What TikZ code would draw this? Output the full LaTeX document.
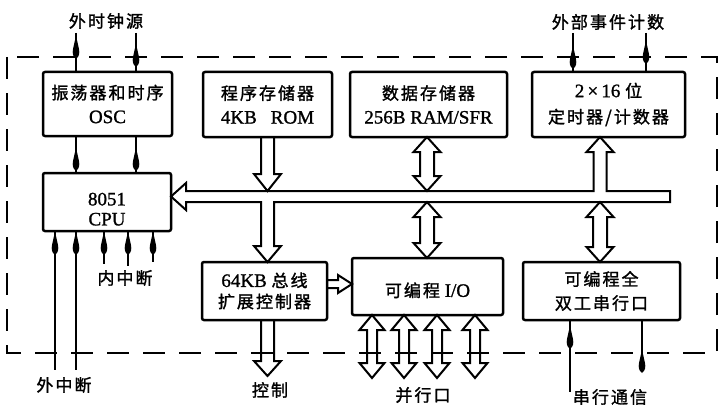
\documentclass[tikz,border=0pt]{standalone}
\usepackage{fontspec}
\setmainfont{Liberation Serif}[FakeBold=1.2]
\newfontfamily\cjk{Noto Sans CJK SC}[LetterSpace=12,FakeBold=1.5]
\newcommand\zh[1]{{\fontsize{17}{24}\selectfont\cjk #1}}
\newcommand\hollowdbl[6]{%
  \draw[hollow] (#1,#2) -- ({#1+#5},{#2+#6}) -- ({#1+#4},{#2+#6}) -- ({#1+#4},{#3-#6})
   -- ({#1+#5},{#3-#6}) -- (#1,#3) -- ({#1-#5},{#3-#6}) -- ({#1-#4},{#3-#6})
   -- ({#1-#4},{#2+#6}) -- ({#1-#5},{#2+#6}) -- cycle;}
\begin{document}
\begin{tikzpicture}[x=1pt,y=-1pt,
  box/.style={draw, line width=2.5pt, rounded corners=2pt, align=center, inner sep=0pt,
    font=\fontsize{19}{24}\selectfont},
  sig/.style={line width=1.7pt},
  hollow/.style={draw, fill=white, line width=2pt, line join=miter},
  lbl/.style={inner sep=0pt},
  mk/.pic={\fill (0,-16) .. controls (0.9,-8) and (3.3,-2) .. (3.3,2)
     .. controls (3.3,6) and (1.4,8) .. (0,9)
     .. controls (-1.4,8) and (-3.3,6) .. (-3.3,2)
     .. controls (-3.3,-2) and (-0.9,-8) .. (0,-16);}]
\useasboundingbox[fill=white] (0,0) rectangle (720,412);

% ---------- hollow bus and arrows ----------
\draw[hollow] (171,196.5) -- (186,183) -- (186,191) -- (593.5,191) -- (593.5,152)
  -- (586.5,152) -- (600,137) -- (613.5,152) -- (606.5,152) -- (606.5,191)
  -- (670,191) -- (670,202) -- (274,202) -- (274,246) -- (281,246) -- (267.5,262)
  -- (254,246) -- (261,246) -- (261,202) -- (186,202) -- (186,210) -- cycle;
\draw[hollow] (261,137) -- (261,174) -- (254,174) -- (267.5,191) -- (281,174) -- (274,174) -- (274,137);
\draw[hollow] (261,320) -- (261,361) -- (254,361) -- (267.5,376) -- (281,361) -- (274,361) -- (274,320);
\draw[hollow] (327,280) -- (338,280) -- (338,275) -- (352,284) -- (338,293) -- (338,288) -- (327,288);
\hollowdbl{427}{137}{191}{7}{13.5}{15}
\hollowdbl{427}{202}{258}{7}{13.5}{15}
\hollowdbl{600}{202}{262}{7}{13.5}{15}
\foreach \px in {372,404,437,475} {\hollowdbl{\px}{315}{378}{5}{12.5}{15}}

% ---------- boxes ----------
\node[box, minimum width=129, minimum height=64] (osc) at (107.5,104) {\zh{振荡器和时序}\\OSC};
\node[box, minimum width=129, minimum height=65] (rom) at (267.5,104.5) {\zh{程序存储器}\\4KB\hspace{14pt}ROM};
\node[box, minimum width=157, minimum height=65] (ram) at (428.5,104.5) {\zh{数据存储器}\\256B RAM/SFR};
\node[box, minimum width=153, minimum height=65] (tim) at (608.5,104.5) {2\,×\,16 \zh{位}\\[2pt]\zh{定时器/计数器}};
\node[box, minimum width=128, minimum height=58] (cpu) at (107,202) {\rule{0pt}{27pt}8051\\[-4pt]CPU};
\node[box, minimum width=125, minimum height=58] (bex) at (264.5,291) {64KB \zh{总线}\\[-3pt]\zh{扩展控制器}};
\node[box, minimum width=151, minimum height=57] (io) at (427.5,286.5) {\rule{0pt}{22pt}\zh{可编程} I/O};
\node[box, minimum width=157, minimum height=58] (ser) at (601.5,291) {\zh{可编程全}\\\zh{双工串行口}};

% ---------- labels ----------
\node[lbl] (lclk) at (106,21) {\zh{外时钟源}};
\node[lbl] (lcnt) at (608,22) {\zh{外部事件计数}};
\node[lbl] (lint) at (125,278) {\zh{内中断}};
\node[lbl] (lext) at (64,385) {\zh{外中断}};
\node[lbl] (lctl) at (270,390) {\zh{控制}};
\node[lbl] (lpar) at (423,395) {\zh{并行口}};
\node[lbl] (lser) at (610,397) {\zh{串行通信}};

% ---------- signal lines ----------
\coordinate (k1) at (76,33);
\coordinate (k2) at (136,33);
\draw[sig] (k1) -- (k1 |- osc.north);
\draw[sig] (k2) -- (k2 |- osc.north);
\pic at (76,50) {mk};
\pic at (136,58) {mk};
\draw[sig] (osc.south -| k1) -- (cpu.north -| k1);
\draw[sig] (osc.south -| k2) -- (cpu.north -| k2);
\pic at (76,162) {mk};
\pic at (136,162) {mk};

\foreach \xx/\yy in {55/370,76/370,104/264,128/266,153/262} {
  \coordinate (ie) at (\xx,\yy);
  \draw[sig] (cpu.south -| ie) -- (ie);
  \pic at (\xx,246) {mk};
}

\coordinate (t1) at (573,33);
\coordinate (t2) at (646,33);
\draw[sig] (t1) -- (t1 |- tim.north);
\draw[sig] (t2) -- (t2 |- tim.north);
\pic at (573,60) {mk};
\pic at (646,55) {mk};

\coordinate (s1) at (570,392);
\coordinate (s2) at (642,372);
\draw[sig] (ser.south -| s1) -- (s1);
\draw[sig] (ser.south -| s2) -- (s2);
\pic at (570,340) {mk};
\pic at (642,364) {mk};

% ---------- dashed chip border ----------
\draw[line width=2.2pt, dash pattern=on 22pt off 14pt] (7,57) rectangle (717,353);
\end{tikzpicture}
\end{document}
